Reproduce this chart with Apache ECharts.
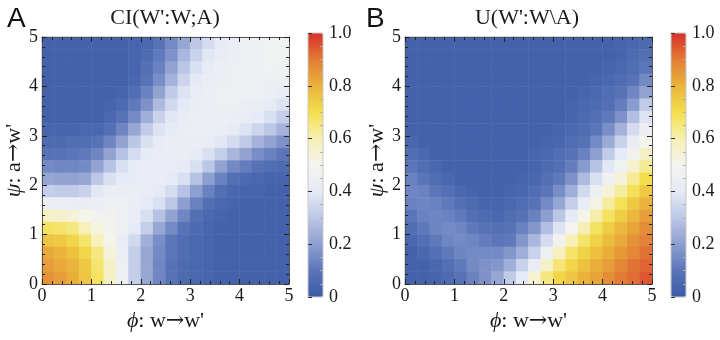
<!DOCTYPE html>
<html><head><meta charset="utf-8">
<script src="https://cdn.jsdelivr.net/npm/echarts@6/dist/echarts.min.js"></script>
<style>html,body{margin:0;padding:0;background:#fff}#c{width:720px;height:340px}</style>
</head><body><div id="c"></div>
<script>
// cell centres (phi / psi) of the sampled grid, 0.25 apart
const phiCells = ['0.125','0.375','0.625','0.875','1.125','1.375','1.625','1.875','2.125','2.375','2.625','2.875','3.125','3.375','3.625','3.875','4.125','4.375','4.625','4.875'];
const psiCells = ['0.125','0.375','0.625','0.875','1.125','1.375','1.625','1.875','2.125','2.375','2.625','2.875','3.125','3.375','3.625','3.875','4.125','4.375','4.625','4.875'];
const axisTickValues = [0, 1, 2, 3, 4, 5];
const colorbarTickValues = [0, 0.2, 0.4, 0.6, 0.8, 1.0];
const titleA = "CI(W':W;A)";
const titleB = "U(W':W\\A)";

// panel A: CI(W':W;A); rows listed from top (psi = 4.875) to bottom (psi = 0.125)
const ciRows = [
[0.03,0.03,0.03,0.03,0.03,0.03,0.03,0.04,0.05,0.09,0.15,0.22,0.30,0.36,0.41,0.43,0.45,0.46,0.47,0.47],
[0.03,0.03,0.03,0.03,0.03,0.03,0.03,0.04,0.06,0.11,0.17,0.26,0.33,0.39,0.42,0.44,0.45,0.46,0.47,0.47],
[0.03,0.03,0.03,0.03,0.03,0.03,0.03,0.04,0.08,0.13,0.21,0.30,0.37,0.41,0.44,0.45,0.46,0.46,0.47,0.46],
[0.03,0.03,0.03,0.03,0.03,0.03,0.03,0.05,0.09,0.16,0.25,0.34,0.40,0.43,0.44,0.45,0.46,0.46,0.45,0.45],
[0.03,0.03,0.03,0.03,0.03,0.03,0.04,0.07,0.13,0.21,0.31,0.38,0.42,0.44,0.45,0.45,0.46,0.45,0.44,0.42],
[0.03,0.03,0.03,0.03,0.03,0.04,0.06,0.11,0.17,0.27,0.35,0.40,0.43,0.44,0.45,0.45,0.44,0.43,0.41,0.38],
[0.03,0.03,0.03,0.03,0.03,0.05,0.09,0.15,0.24,0.33,0.39,0.42,0.44,0.44,0.44,0.43,0.42,0.40,0.37,0.32],
[0.04,0.04,0.04,0.05,0.05,0.08,0.14,0.22,0.31,0.38,0.41,0.43,0.44,0.44,0.43,0.41,0.38,0.34,0.30,0.25],
[0.06,0.06,0.07,0.07,0.09,0.14,0.21,0.30,0.37,0.41,0.43,0.43,0.43,0.42,0.39,0.36,0.31,0.25,0.21,0.17],
[0.09,0.09,0.10,0.11,0.14,0.21,0.29,0.36,0.41,0.42,0.43,0.43,0.41,0.37,0.32,0.26,0.21,0.16,0.13,0.10],
[0.15,0.14,0.14,0.15,0.21,0.29,0.37,0.41,0.42,0.42,0.42,0.40,0.37,0.30,0.21,0.15,0.12,0.09,0.07,0.06],
[0.22,0.21,0.21,0.22,0.30,0.37,0.40,0.41,0.42,0.42,0.40,0.37,0.29,0.20,0.13,0.08,0.06,0.05,0.04,0.04],
[0.32,0.31,0.31,0.33,0.39,0.43,0.43,0.43,0.42,0.40,0.36,0.29,0.20,0.13,0.08,0.05,0.04,0.04,0.03,0.03],
[0.44,0.44,0.43,0.43,0.44,0.45,0.45,0.43,0.40,0.37,0.30,0.20,0.13,0.08,0.05,0.04,0.03,0.03,0.03,0.03],
[0.57,0.56,0.54,0.51,0.48,0.48,0.45,0.42,0.37,0.29,0.21,0.14,0.08,0.05,0.04,0.03,0.03,0.03,0.03,0.03],
[0.68,0.67,0.65,0.59,0.53,0.48,0.45,0.40,0.32,0.22,0.15,0.09,0.06,0.04,0.03,0.03,0.03,0.03,0.03,0.03],
[0.76,0.75,0.72,0.67,0.59,0.51,0.42,0.35,0.24,0.16,0.10,0.07,0.05,0.04,0.03,0.03,0.03,0.03,0.03,0.03],
[0.82,0.80,0.77,0.72,0.65,0.54,0.44,0.32,0.22,0.15,0.10,0.07,0.05,0.04,0.03,0.03,0.03,0.03,0.03,0.03],
[0.84,0.82,0.80,0.75,0.67,0.57,0.45,0.32,0.22,0.14,0.09,0.06,0.05,0.04,0.03,0.03,0.03,0.03,0.03,0.03],
[0.86,0.84,0.81,0.76,0.68,0.57,0.45,0.32,0.22,0.14,0.09,0.06,0.05,0.04,0.03,0.03,0.03,0.03,0.03,0.03]
];

// panel B: U(W':W\A); rows listed from top (psi = 4.875) to bottom (psi = 0.125)
const uRows = [
[0.03,0.03,0.03,0.03,0.03,0.03,0.03,0.03,0.03,0.03,0.03,0.03,0.03,0.03,0.03,0.03,0.03,0.04,0.05,0.06],
[0.03,0.03,0.03,0.03,0.03,0.03,0.03,0.03,0.03,0.03,0.03,0.03,0.03,0.03,0.03,0.03,0.03,0.04,0.06,0.08],
[0.03,0.03,0.03,0.03,0.03,0.03,0.03,0.03,0.03,0.03,0.03,0.03,0.03,0.03,0.03,0.03,0.04,0.05,0.07,0.10],
[0.03,0.03,0.03,0.03,0.03,0.03,0.03,0.03,0.03,0.03,0.03,0.03,0.03,0.03,0.03,0.04,0.05,0.07,0.09,0.15],
[0.03,0.03,0.03,0.03,0.03,0.03,0.03,0.03,0.03,0.03,0.03,0.03,0.03,0.03,0.04,0.05,0.07,0.09,0.14,0.21],
[0.03,0.03,0.03,0.03,0.03,0.03,0.03,0.03,0.03,0.03,0.03,0.03,0.03,0.04,0.05,0.06,0.08,0.12,0.19,0.31],
[0.03,0.03,0.03,0.03,0.03,0.03,0.03,0.03,0.03,0.03,0.03,0.03,0.03,0.04,0.06,0.08,0.11,0.17,0.28,0.38],
[0.03,0.03,0.03,0.03,0.03,0.03,0.03,0.03,0.03,0.03,0.03,0.03,0.04,0.05,0.07,0.10,0.16,0.25,0.36,0.44],
[0.05,0.03,0.03,0.03,0.03,0.03,0.03,0.03,0.03,0.03,0.03,0.04,0.05,0.07,0.09,0.15,0.23,0.33,0.42,0.50],
[0.07,0.05,0.03,0.03,0.03,0.03,0.03,0.03,0.03,0.03,0.04,0.05,0.07,0.09,0.13,0.20,0.31,0.40,0.48,0.57],
[0.10,0.07,0.05,0.03,0.03,0.03,0.03,0.03,0.03,0.03,0.04,0.06,0.08,0.12,0.19,0.29,0.39,0.47,0.56,0.63],
[0.13,0.10,0.07,0.05,0.03,0.03,0.03,0.03,0.03,0.04,0.05,0.08,0.11,0.17,0.27,0.37,0.46,0.54,0.63,0.70],
[0.14,0.13,0.10,0.08,0.05,0.04,0.03,0.03,0.04,0.05,0.07,0.10,0.16,0.24,0.35,0.44,0.54,0.62,0.69,0.75],
[0.13,0.14,0.13,0.11,0.08,0.06,0.04,0.04,0.05,0.07,0.09,0.15,0.22,0.32,0.42,0.52,0.62,0.69,0.75,0.80],
[0.10,0.13,0.14,0.13,0.11,0.08,0.06,0.05,0.07,0.09,0.13,0.20,0.30,0.40,0.51,0.61,0.68,0.74,0.79,0.84],
[0.07,0.11,0.14,0.15,0.14,0.11,0.09,0.08,0.09,0.13,0.18,0.28,0.38,0.49,0.60,0.68,0.74,0.79,0.83,0.87],
[0.05,0.08,0.11,0.14,0.15,0.14,0.12,0.10,0.11,0.18,0.26,0.36,0.48,0.59,0.67,0.73,0.78,0.82,0.86,0.89],
[0.03,0.05,0.08,0.11,0.14,0.15,0.15,0.15,0.18,0.24,0.33,0.45,0.58,0.67,0.73,0.77,0.81,0.85,0.88,0.91],
[0.03,0.03,0.05,0.08,0.11,0.15,0.17,0.18,0.24,0.33,0.42,0.57,0.66,0.72,0.77,0.81,0.84,0.88,0.91,0.93],
[0.03,0.03,0.04,0.06,0.09,0.13,0.17,0.22,0.31,0.40,0.55,0.65,0.72,0.76,0.80,0.83,0.87,0.90,0.92,0.95]
];

const palette = ['#3b59a7','#5b75b8','#8d9fd0','#bcc7e6','#e6eaf6','#f4f4ef','#f6efb4','#f3df4c','#eab33b','#e27c35','#d7302d'];

function toCells(rows) {
  const out = [];
  rows.forEach((row, r) => {
    const j = rows.length - 1 - r;
    row.forEach((v, i) => out.push([i, j, v]));
  });
  return out;
}

const SERIF = '"Liberation Serif", "DejaVu Serif", serif';
const SANS = '"Liberation Sans", Arial, sans-serif';
const TXT = '#1a1a1a';

const panels = [
  {left: 42, top: 37, cbLeft: 308},
  {left: 405, top: 37, cbLeft: 671}
];
const PW = 247, PH = 247, CB_TOP = 33, CB_W = 15, CB_H = 264;

const grid = [], xAxis = [], yAxis = [], series = [], visualMap = [];

function frameAxis(common) {
  return Object.assign({
    type: 'value', min: 0, max: 5, interval: 1, z: 10,
    axisLine: {show: true, onZero: false, lineStyle: {color: '#555', width: 1}},
    axisTick: {show: true, inside: true, length: 5, lineStyle: {color: '#222', width: 1}},
    minorTick: {show: true, splitNumber: 5, length: 3, lineStyle: {color: '#222', width: 1}},
    splitLine: {show: false}
  }, common);
}

const nameRich = {
  g: {fontFamily: SERIF, fontSize: 22, fontStyle: 'italic', color: TXT},
  a: {fontFamily: '"DejaVu Serif", serif', fontSize: 22, color: TXT}
};

panels.forEach((p, k) => {
  const gi = grid.length;
  grid.push({left: p.left, top: p.top, width: PW, height: PH, containLabel: false});
  // heatmap axes (category, hidden)
  xAxis.push({type: 'category', gridIndex: gi, data: phiCells, show: false, boundaryGap: true});
  yAxis.push({type: 'category', gridIndex: gi, data: psiCells, show: false, boundaryGap: true});
  const xCat = xAxis.length - 1, yCat = yAxis.length - 1;
  // visible frame axes
  xAxis.push(frameAxis({
    gridIndex: gi, position: 'bottom',
    axisLabel: {show: true, margin: 3, fontFamily: SERIF, fontSize: 18, color: TXT,
      customValues: axisTickValues},
    name: "{g|ϕ}: w{a|→}w'", nameLocation: 'middle', nameGap: 26,
    nameTextStyle: {fontFamily: SERIF, fontSize: 22, color: TXT, rich: nameRich}
  }));
  xAxis.push(frameAxis({gridIndex: gi, position: 'top', axisLabel: {show: false}}));
  yAxis.push(frameAxis({
    gridIndex: gi, position: 'left',
    axisLabel: {show: true, margin: 4, fontFamily: SERIF, fontSize: 18, color: TXT,
      customValues: axisTickValues},
    name: "{g|ψ}: a{a|→}w'", nameLocation: 'middle', nameGap: 15, nameRotate: 90,
    nameTextStyle: {fontFamily: SERIF, fontSize: 22, color: TXT, rich: nameRich}
  }));
  yAxis.push(frameAxis({gridIndex: gi, position: 'right', axisLabel: {show: false}}));

  series.push({
    type: 'heatmap', xAxisIndex: xCat, yAxisIndex: yCat,
    data: toCells(k === 0 ? ciRows : uRows),
    itemStyle: {borderWidth: 0},
    emphasis: {disabled: true}, progressive: 0, animation: false
  });
});

panels.forEach((p, k) => {
  const gi = grid.length;
  grid.push({left: p.cbLeft, top: CB_TOP, width: CB_W, height: CB_H, show: true,
    borderColor: '#c8c8c8', borderWidth: 1, backgroundColor: 'transparent', z: 6});
  xAxis.push({type: 'value', gridIndex: gi, show: false, min: 0, max: 1});
  yAxis.push({type: 'value', gridIndex: gi, position: 'right', min: 0, max: 1, interval: 0.2, z: 10,
    axisLine: {show: false},
    axisTick: {show: true, inside: false, length: 4, lineStyle: {color: '#333'}},
    splitLine: {show: false},
    axisLabel: {show: true, margin: 6, fontFamily: SERIF, fontSize: 18, color: TXT,
      customValues: colorbarTickValues,
      formatter: v => (v === 0 ? '0' : v.toFixed(1))}
  });
  yAxis.push({type: 'value', gridIndex: gi, position: 'right', min: 0, max: 1, interval: 0.2, z: 10,
    axisLine: {show: false}, axisLabel: {show: false}, splitLine: {show: false},
    axisTick: {show: false, inside: true},
    minorTick: {show: true, splitNumber: 4, length: 3, lineStyle: {color: '#b0b0b0'}}
  });
  visualMap.push({
    type: 'continuous', seriesIndex: k, min: 0, max: 1, calculable: false,
    orient: 'vertical', left: p.cbLeft, top: CB_TOP, itemWidth: CB_W, itemHeight: CB_H,
    padding: 0, text: null, showLabel: false, hoverLink: false,
    inRange: {color: palette}
  });
});

const graphic = [
  {type: 'text', x: 7, y: 19, style: {text: 'A', fontFamily: SANS, fontSize: 28, fill: '#111', textVerticalAlign: 'middle'}},
  {type: 'text', x: 366, y: 19, style: {text: 'B', fontFamily: SANS, fontSize: 28, fill: '#111', textVerticalAlign: 'middle'}},
  {type: 'text', x: 165, y: 18, style: {text: titleA, fontFamily: SERIF, fontSize: 22, fill: TXT, textAlign: 'center', textVerticalAlign: 'middle'}},
  {type: 'text', x: 527, y: 18, style: {text: titleB, fontFamily: SERIF, fontSize: 22, fill: TXT, textAlign: 'center', textVerticalAlign: 'middle'}}
];

const chart = echarts.init(document.getElementById('c'), null, {renderer: 'canvas'});
chart.setOption({
  animation: false,
  backgroundColor: '#ffffff',
  grid, xAxis, yAxis, series, visualMap, graphic
});
</script>
</body></html>
